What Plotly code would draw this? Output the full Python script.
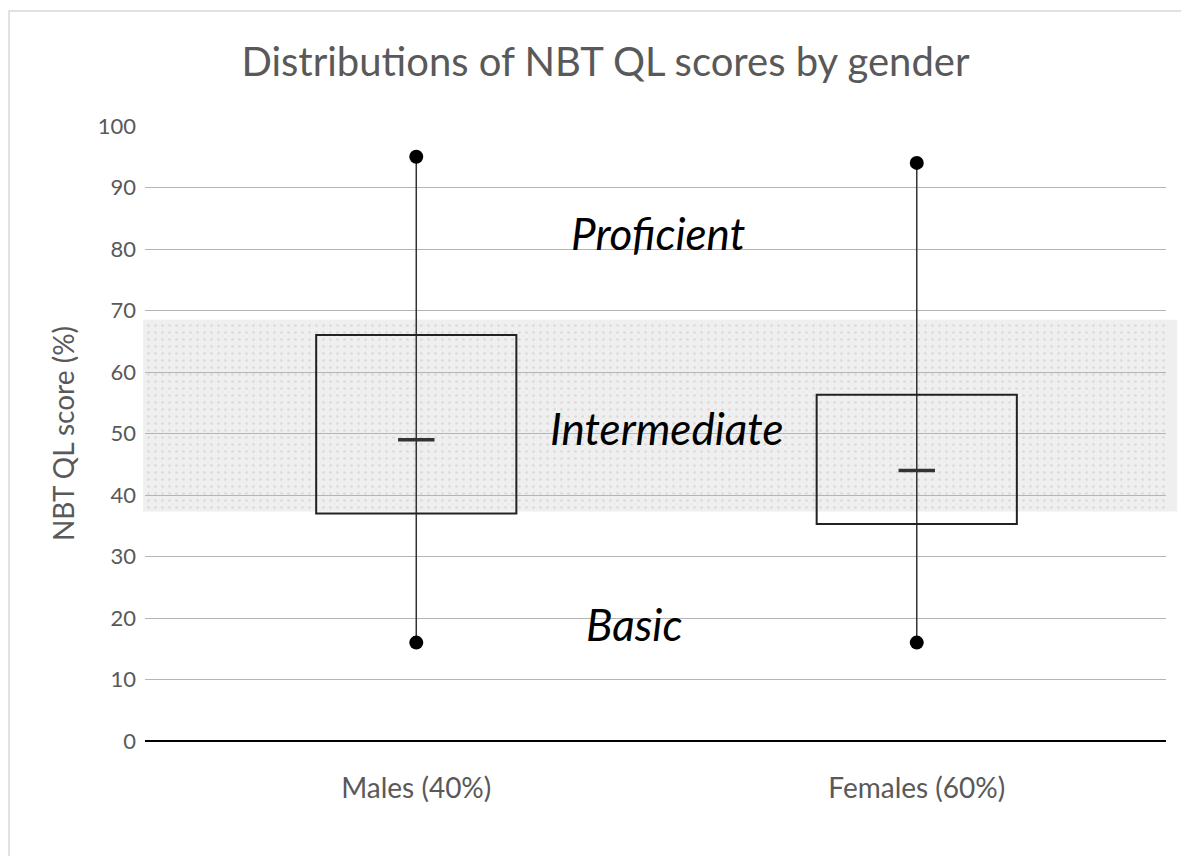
import plotly.graph_objects as go

# summary stats (NBT QL score, %)
groups = ['Males (40%)', 'Females (60%)']
mins = [16, 16]
q1s = [37, 35.3]
medians = [49, 44]
q3s = [66, 56.3]
maxs = [95, 94]

# "Intermediate" band limits and the level labels
band_low = 37.3
band_high = 68.5
levels = ['Proficient', 'Intermediate', 'Basic']
level_y = [82.6, 50.9, 19]

FONT = 'Lato'
GREY = '#595959'
box_half = 0.2

fig = go.Figure()

# dotted texture over the band (inside plot area)
fig.add_trace(go.Scatter(
    x=[-0.6, 1.6, 1.6, -0.6, -0.6],
    y=[band_low, band_low, band_high, band_high, band_low],
    mode='lines', line=dict(width=0), fill='toself',
    fillcolor='rgba(0,0,0,0)',
    fillpattern=dict(shape='.', fgcolor='#c4c4c4', bgcolor='rgba(0,0,0,0)',
                     size=7, solidity=0.12),
    hoverinfo='skip', showlegend=False))

for i, g in enumerate(groups):
    # whisker from min to max with dots at the ends
    fig.add_trace(go.Scatter(
        x=[i, i], y=[mins[i], maxs[i]], mode='lines+markers',
        line=dict(color='#333333', width=1.5),
        marker=dict(size=14, color='black'),
        name=g, showlegend=False))
    # box
    fig.add_shape(type='rect', xref='x', yref='y',
                  x0=i - box_half, x1=i + box_half, y0=q1s[i], y1=q3s[i],
                  line=dict(color='#222222', width=2), fillcolor='rgba(0,0,0,0)')
    # median dash
    fig.add_trace(go.Scatter(
        x=[i], y=[medians[i]], mode='markers',
        marker=dict(symbol='line-ew', size=26, line=dict(color='#333333', width=3.5)),
        showlegend=False))

# grey band, drawn under the gridlines
fig.add_shape(type='rect', xref='paper', yref='y', layer='below',
              x0=-0.002, x1=1.011, y0=band_low, y1=band_high,
              line=dict(width=0), fillcolor='#efefef')

# chart frame
fig.add_shape(type='rect', xref='paper', yref='paper',
              x0=-0.1332, x1=1.2, y0=-0.4, y1=1.187,
              line=dict(color='#d9d9d9', width=1.5))

for lab, yy, xx in zip(levels, level_y, [0.482, 0.5, 0.436]):
    fig.add_annotation(x=xx, y=yy, xref='x', yref='y', text=lab, showarrow=False,
                       font=dict(family=FONT, size=44, color='black', style='italic'))

# page body adds an 8px margin, so the figure is a bit smaller than the window
fig.update_layout(
    width=1181, height=848,
    margin=dict(l=137, r=23, t=118, b=115),
    paper_bgcolor='white', plot_bgcolor='rgba(0,0,0,0)',
    font=dict(family=FONT, color=GREY),
    title=dict(text='Distributions of NBT QL scores by gender',
               x=0.451, xref='paper', xanchor='center',
               y=0.936, yref='container', yanchor='middle',
               font=dict(family=FONT, size=40, color=GREY)),
    showlegend=False,
)
fig.update_xaxes(range=[-0.542, 1.498], tickvals=[0, 1], ticktext=groups,
                 showgrid=False, zeroline=False, showline=False, ticks='',
                 ticklabelstandoff=28, tickfont=dict(size=28, color=GREY))
fig.update_yaxes(range=[0, 100], tickvals=list(range(0, 101, 10)),
                 showgrid=True, gridcolor='#b4b4b4', gridwidth=1,
                 zeroline=True, zerolinecolor='black', zerolinewidth=2,
                 showline=False, ticks='', ticklabelstandoff=8,
                 tickfont=dict(size=22, color=GREY),
                 title=dict(text='NBT QL score (%)', standoff=14,
                            font=dict(size=28, color=GREY)))

fig.write_html("out.html")
